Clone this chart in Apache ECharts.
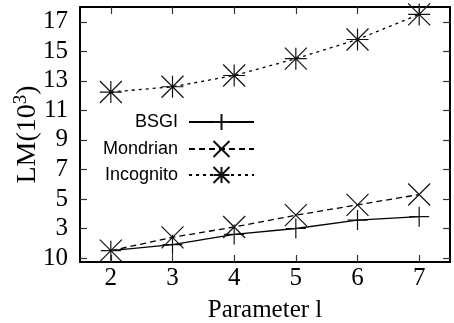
<!DOCTYPE html>
<html><head><meta charset="utf-8">
<script src="https://cdn.jsdelivr.net/npm/echarts@6/dist/echarts.min.js"></script>
<style>html,body{margin:0;padding:0;background:#fff}#c{width:454px;height:323px}</style>
</head><body><div id="c"></div>
<script>
const xValues = [2, 3, 4, 5, 6, 7];
const bsgi = [1.5, 1.9, 2.6, 3.0, 3.57, 3.8];
const mondrian = [1.5, 2.4, 3.1, 3.9, 4.6, 5.3];
const incognito = [12.24, 12.6, 13.36, 14.5, 15.8, 17.5];
const yTicks = [1, 3, 5, 7, 9, 11, 13, 15, 17];
const yTickLabels = ['10', '3', '5', '7', '9', '11', '13', '15', '17'];
const xTicks = [2, 3, 4, 5, 6, 7];
const seriesNames = ['BSGI', 'Mondrian', 'Incognito'];

const plusPath = 'path://M0,10L20,10M10,0L10,20';
const crossPath = 'path://M0,0L20,20M20,0L0,20';
const starPath = 'path://M0,0L20,20M20,0L0,20M0,10L20,10M10,0L10,20';

const pairs = arr => xValues.map((x, i) => [x, arr[i]]);
const serif = '"Liberation Serif", "DejaVu Serif", serif';
const sans = '"Liberation Sans", Arial, sans-serif';

const mkSeries = (name, data, type, symbol, size) => ({
  name, type: 'line', data: pairs(data), symbol, symbolSize: size,
  showAllSymbol: true,
  lineStyle: { color: '#000', width: 1.3, type },
  itemStyle: { color: '#000', borderColor: '#111', borderWidth: 1.2 },
  emphasis: { disabled: true }, animation: false, z: 3
});

const axisCommon = {
  axisLine: { show: true, lineStyle: { color: '#000', width: 2 } },
  splitLine: { show: false }
};

const chart = echarts.init(document.getElementById('c'), null, { renderer: 'canvas' });
const legendBase = {
  orient: 'vertical', align: 'right', right: 199, padding: 0,
  itemWidth: 65, itemHeight: 20, itemGap: 0, selectedMode: false,
  textStyle: { fontFamily: sans, fontSize: 18, color: '#000', padding: [0, 6, 0, 0] },
  inactiveColor: '#000'
};
chart.setOption({
  animation: false,
  grid: { left: 80, right: 4, top: 7, bottom: 61, outerBoundsMode: 'none', containLabel: false },
  legend: [
    Object.assign({}, legendBase, { data: [seriesNames[0]], top: 113 }),
    Object.assign({}, legendBase, { data: [seriesNames[1]], top: 140 }),
    Object.assign({}, legendBase, { data: [seriesNames[2]], top: 166 })
  ],
  xAxis: [
    Object.assign({}, axisCommon, {
      type: 'value', min: 1.5, max: 7.5, position: 'bottom',
      name: 'Parameter l', nameLocation: 'middle', nameGap: 36, nameMoveOverlap: false,
      nameTextStyle: { fontFamily: serif, fontSize: 25, color: '#000' },
      axisTick: { inside: true, length: 7, customValues: xTicks, lineStyle: { color: '#333', width: 1.2 } },
      axisLabel: { customValues: xTicks, fontFamily: serif, fontSize: 25, color: '#000', margin: 4 }
    }),
    Object.assign({}, axisCommon, {
      type: 'value', min: 1.5, max: 7.5, position: 'top',
      axisTick: { inside: true, length: 7, customValues: xTicks, lineStyle: { color: '#333', width: 1.2 } },
      axisLabel: { show: false }
    })
  ],
  yAxis: [
    Object.assign({}, axisCommon, {
      type: 'value', min: 0.73, max: 18, position: 'left',
      name: '{a|LM(10}{b|3}{a|)}', nameLocation: 'middle', nameGap: 37, nameRotate: 90,
      nameMoveOverlap: false,
      nameTextStyle: { padding: 0, rich: {
        a: { fontFamily: serif, fontSize: 28, color: '#000' },
        b: { fontFamily: serif, fontSize: 19, color: '#000', verticalAlign: 'top', padding: [0, 0, 12, 0] }
      } },
      axisTick: { inside: true, length: 7, customValues: yTicks, lineStyle: { color: '#333', width: 1.2 } },
      axisLabel: { customValues: yTicks, fontFamily: serif, fontSize: 25, color: '#000', margin: 12,
        formatter: v => { const i = yTicks.indexOf(Math.round(v)); return i >= 0 ? yTickLabels[i] : ''; } }
    }),
    Object.assign({}, axisCommon, {
      type: 'value', min: 0.73, max: 18, position: 'right',
      axisTick: { inside: true, length: 7, customValues: yTicks, lineStyle: { color: '#333', width: 1.2 } },
      axisLabel: { show: false }
    })
  ],
  series: [
    mkSeries(seriesNames[0], bsgi, 'solid', plusPath, 20),
    mkSeries(seriesNames[1], mondrian, [6, 4], crossPath, 22),
    mkSeries(seriesNames[2], incognito, [3, 4], starPath, 22)
  ]
});
</script>
</body></html>
